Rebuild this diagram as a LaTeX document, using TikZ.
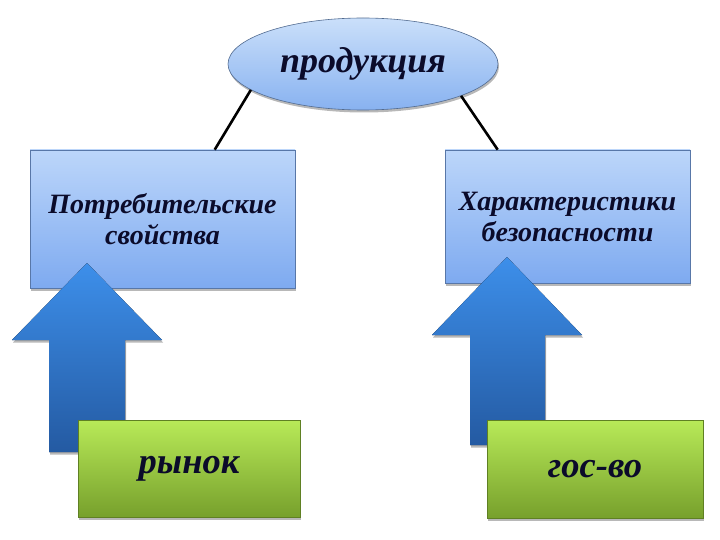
\documentclass[tikz,border=0pt]{standalone}
\usepackage{fontspec}
\newfontfamily\tnrbi{Liberation Serif Bold Italic}
\usetikzlibrary{shadows,calc,shapes.geometric}
\definecolor{txt}{HTML}{0B0B2A}
\definecolor{bluetop}{HTML}{BCD6FA}
\definecolor{bluebot}{HTML}{7EAAF0}
\definecolor{elltop}{HTML}{CADFFA}
\definecolor{ellbot}{HTML}{88B2F0}
\definecolor{arrtop}{HTML}{3D8FEA}
\definecolor{arrbot}{HTML}{245AA2}
\definecolor{grtop}{HTML}{B8EA58}
\definecolor{grbot}{HTML}{77A02C}
\tikzset{
  shad/.style={drop shadow={shadow xshift=1pt,shadow yshift=-2.5pt,fill=black!35,opacity=0.8}},
  bluebox/.style={draw=bluebot!70!black,line width=0.6pt,top color=bluetop,bottom color=bluebot,shad,inner sep=0pt,align=center,text=txt,font=\tnrbi\fontsize{28}{31}\selectfont},
  greenbox/.style={draw=grbot!80!black,line width=0.4pt,top color=grtop,bottom color=grbot,shad,inner sep=0pt,text=txt,font=\tnrbi\fontsize{36.5}{40}\selectfont},
  ellbox/.style={ellipse,draw=ellbot!60!black,line width=0.6pt,top color=elltop,bottom color=ellbot,shad,inner sep=0pt,text=txt,font=\tnrbi\fontsize{36}{38}\selectfont},
  arrowshape/.style={top color=arrtop,bottom color=arrbot,shad},
  link/.style={line width=2.6pt,black}
}
\begin{document}
\begin{tikzpicture}[x=1pt,y=-1pt]
\useasboundingbox (0,0) rectangle (720,540);
% blue boxes
\node[bluebox,minimum width=265pt,minimum height=138pt] (lbox) at (162.5,219) {Потребительские\\свойства};
\node[bluebox,minimum width=245pt,minimum height=133pt] (rbox) at (567.5,216.5) {Характеристики\\безопасности};
% ellipse
\node[ellbox,minimum width=270pt,minimum height=92pt] (ell) at (363,64) {\raisebox{-1pt}{продукция}};
% links
\draw[link] (ell.193) -- ([xshift=185pt]lbox.north west);
\draw[link] (ell.342) -- ([xshift=53pt]rbox.north west);
% arrows
\fill[arrowshape] (87,263) -- (162,340) -- (125,340) -- (125,452) -- (49,452) -- (49,340) -- (12,340) -- cycle;
\fill[arrowshape] (507,257) -- (582,335) -- (545,335) -- (545,445) -- (470,445) -- (470,335) -- (432,335) -- cycle;
% green boxes
\node[greenbox,minimum width=222pt,minimum height=97pt] (market) at (189,468.5) {рынок};
\node[greenbox,minimum width=216pt,minimum height=98pt] (state) at (595,469) {гос-во};
\end{tikzpicture}
\end{document}
